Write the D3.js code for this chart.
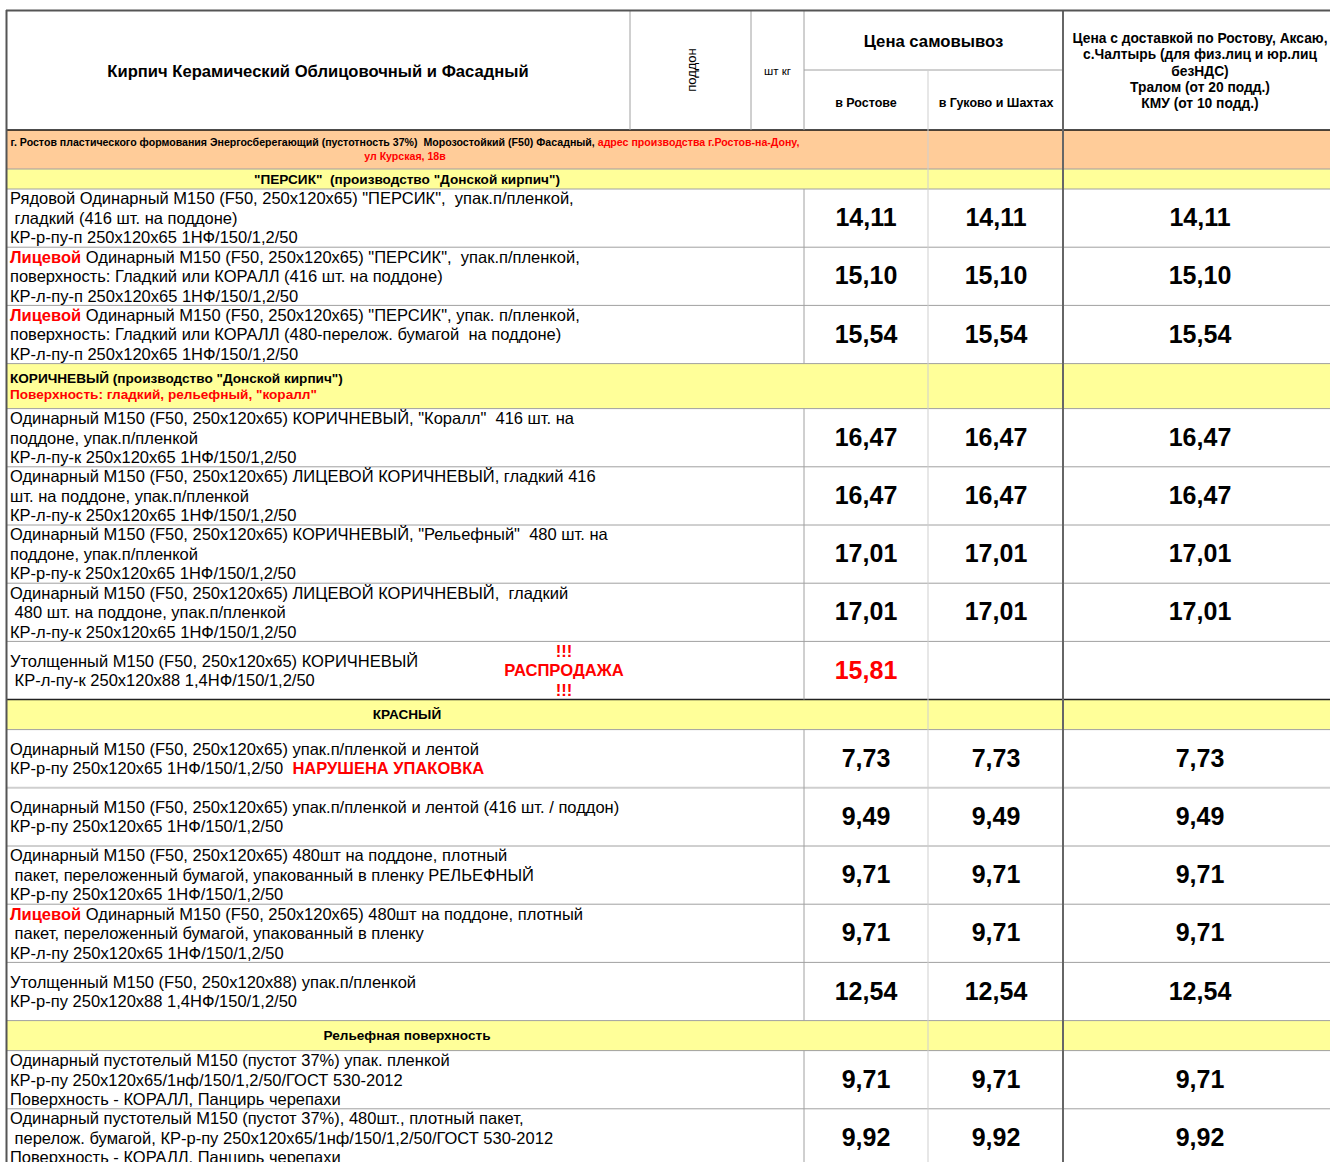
<!DOCTYPE html>
<html><head><meta charset="utf-8">
<script src="https://cdn.jsdelivr.net/npm/d3@7"></script>
<style>
body{margin:0;background:#fff}
svg{display:block}
text{font-family:"Liberation Sans",Arial,sans-serif;white-space:pre}
</style>
</head><body>
<svg id="c" width="1330" height="1162"></svg>
<script>
// ---------- DATA ----------
const tableTitle = "Кирпич Керамический Облицовочный и Фасадный";
const smallHeaders = ["поддон", "шт кг"];
const pickupHeader = "Цена самовывоз";
const pickupSubHeaders = ["в Ростове", "в Гуково и Шахтах"];
const deliveryHeader = ["Цена с доставкой по Ростову, Аксаю,", "с.Чалтырь (для физ.лиц и юр.лиц", "безНДС)", "Тралом (от 20 подд.)", "КМУ (от 10 подд.)"];
const bannerLines = [
  "г. Ростов пластического формования Энергосберегающий (пустотность 37%)  Морозостойкий (F50) Фасадный, [[адрес производства г.Ростов-на-Дону,]]",
  "[[ул Курская, 18в]]"
];
const sectionTitles = [
  ["\"ПЕРСИК\"  (производство \"Донской кирпич\")"],
  ["КОРИЧНЕВЫЙ (производство \"Донской кирпич\")", "[[Поверхность: гладкий, рельефный, \"коралл\"]]"],
  ["КРАСНЫЙ"],
  ["Рельефная поверхность"]
];
const rowKinds = ["banner","section","item","item","item","section","item","item","item","item","item","section","item","item","item","item","item","section","item","item"];
const descriptions = [
  ["Рядовой Одинарный М150 (F50, 250x120x65) \"ПЕРСИК\",  упак.п/пленкой,", " гладкий (416 шт. на поддоне)", "КР-р-пу-п 250x120x65 1НФ/150/1,2/50"],
  ["[[Лицевой]] Одинарный М150 (F50, 250x120x65) \"ПЕРСИК\",  упак.п/пленкой,", "поверхность: Гладкий или КОРАЛЛ (416 шт. на поддоне)", "КР-л-пу-п 250x120x65 1НФ/150/1,2/50"],
  ["[[Лицевой]] Одинарный М150 (F50, 250x120x65) \"ПЕРСИК\", упак. п/пленкой,", "поверхность: Гладкий или КОРАЛЛ (480-перелож. бумагой  на поддоне)", "КР-л-пу-п 250x120x65 1НФ/150/1,2/50"],
  ["Одинарный М150 (F50, 250x120x65) КОРИЧНЕВЫЙ, \"Коралл\"  416 шт. на", "поддоне, упак.п/пленкой", "КР-л-пу-к 250x120x65 1НФ/150/1,2/50"],
  ["Одинарный М150 (F50, 250x120x65) ЛИЦЕВОЙ КОРИЧНЕВЫЙ, гладкий 416", "шт. на поддоне, упак.п/пленкой", "КР-л-пу-к 250x120x65 1НФ/150/1,2/50"],
  ["Одинарный М150 (F50, 250x120x65) КОРИЧНЕВЫЙ, \"Рельефный\"  480 шт. на", "поддоне, упак.п/пленкой", "КР-р-пу-к 250x120x65 1НФ/150/1,2/50"],
  ["Одинарный М150 (F50, 250x120x65) ЛИЦЕВОЙ КОРИЧНЕВЫЙ,  гладкий", " 480 шт. на поддоне, упак.п/пленкой", "КР-л-пу-к 250x120x65 1НФ/150/1,2/50"],
  ["Утолщенный М150 (F50, 250x120x65) КОРИЧНЕВЫЙ", " КР-л-пу-к 250x120x88 1,4НФ/150/1,2/50"],
  ["Одинарный М150 (F50, 250x120x65) упак.п/пленкой и лентой", "КР-р-пу 250x120x65 1НФ/150/1,2/50  [[НАРУШЕНА УПАКОВКА]]"],
  ["Одинарный М150 (F50, 250x120x65) упак.п/пленкой и лентой (416 шт. / поддон)", "КР-р-пу 250x120x65 1НФ/150/1,2/50"],
  ["Одинарный М150 (F50, 250x120x65) 480шт на поддоне, плотный", " пакет, переложенный бумагой, упакованный в пленку РЕЛЬЕФНЫЙ", "КР-р-пу 250x120x65 1НФ/150/1,2/50"],
  ["[[Лицевой]] Одинарный М150 (F50, 250x120x65) 480шт на поддоне, плотный", " пакет, переложенный бумагой, упакованный в пленку", "КР-л-пу 250x120x65 1НФ/150/1,2/50"],
  ["Утолщенный М150 (F50, 250x120x88) упак.п/пленкой", "КР-р-пу 250x120x88 1,4НФ/150/1,2/50"],
  ["Одинарный пустотелый М150 (пустот 37%) упак. пленкой", "КР-р-пу 250x120x65/1нф/150/1,2/50/ГОСТ 530-2012", "Поверхность - КОРАЛЛ, Панцирь черепахи"],
  ["Одинарный пустотелый М150 (пустот 37%), 480шт., плотный пакет,", " перелож. бумагой, КР-р-пу 250x120x65/1нф/150/1,2/50/ГОСТ 530-2012", "Поверхность - КОРАЛЛ, Панцирь черепахи"]
];
const itemNotes = [null,null,null,null,null,null,null,["!!!","РАСПРОДАЖА","!!!"],null,null,null,null,null,null,null];
const priceRostov   = [14.11,15.10,15.54,16.47,16.47,17.01,17.01,15.81,7.73,9.49,9.71,9.71,12.54,9.71,9.92];
const priceGukovo   = [14.11,15.10,15.54,16.47,16.47,17.01,17.01,null, 7.73,9.49,9.71,9.71,12.54,9.71,9.92];
const priceDelivery = [14.11,15.10,15.54,16.47,16.47,17.01,17.01,null, 7.73,9.49,9.71,9.71,12.54,9.71,9.92];
const salePriceIndex = [7];

// ---------- LAYOUT ----------
const X0 = 6, XR = 1338, YTOP = 10, HEADER_H = 120;
const colEdges = {pallet:630, unit:751, rostov:804, gukovo:928, delivery:1063};
const sectionHeights = [20, 45, 30, 30];
const bannerH = 39, itemH = 58.2;
const RED = "#ff0000", ORANGE = "#ffcc99", YELLOW = "#ffff99";

const svg = d3.select("#c");
const fmt = d3.formatLocale({decimal:",", thousands:" ", grouping:[3], currency:["",""]}).format(".2f");

let secI = 0, itemI = 0;
const rows = rowKinds.map(k => {
  if (k === "banner") return {kind:k, h:bannerH};
  if (k === "section") { const i = secI++; return {kind:k, idx:i, h:sectionHeights[i]}; }
  const i = itemI++; return {kind:k, idx:i, h:itemH};
});
const tops = [YTOP + HEADER_H, ...d3.cumsum(rows, r => r.h).map(v => YTOP + HEADER_H + v)];
rows.forEach((r, i) => { r.y0 = tops[i]; r.y1 = tops[i+1]; });
const bottom = tops[tops.length-1];

const xPrice = d3.scaleOrdinal().domain(["rostov","gukovo","delivery"]).range([866, 996, 1200]);

function rich(sel, str, baseBold) {
  const parts = str.split(/(\[\[.*?\]\])/).filter(s => s.length);
  parts.forEach(p => {
    const red = p.startsWith("[[");
    sel.append("tspan").text(red ? p.slice(2,-2) : p)
      .attr("fill", red ? RED : "#000")
      .attr("font-weight", (red || baseBold) ? "bold" : "normal");
  });
}

const bgG = svg.append("g");
bgG.selectAll("rect").data(rows.filter(r => r.kind !== "item")).join("rect")
  .attr("x", X0).attr("y", d => d.y0).attr("width", XR - X0).attr("height", d => d.h)
  .attr("fill", d => d.kind === "banner" ? ORANGE : YELLOW);

const lines = svg.append("g");
function hline(y, x1, x2, color, w) { lines.append("line").attr("x1",x1).attr("x2",x2).attr("y1",y).attr("y2",y).attr("stroke",color).attr("stroke-width",w); }
function vline(x, y1, y2, color, w) { lines.append("line").attr("x1",x).attr("x2",x).attr("y1",y1).attr("y2",y2).attr("stroke",color).attr("stroke-width",w); }

rows.forEach((r, i) => {
  if (i === 0) return;
  const prev = rows[i-1];
  let color = "#a0a0a0", w = 1;
  if (r.kind === "section" && prev.kind === "item" && r.idx === 2) { color = "#222"; w = 1.5; }
  if (r.kind === "item" && prev.kind === "item" && r.idx === 9) { color = "#cfcfcf"; w = 2; }
  hline(r.y0, X0, XR, color, w);
});
hline(YTOP + HEADER_H, X0, XR, "#111", 1.5);
vline(colEdges.pallet, YTOP, YTOP + HEADER_H, "#a0a0a0", 1);
vline(colEdges.unit, YTOP, YTOP + HEADER_H, "#a0a0a0", 1);
vline(colEdges.rostov, YTOP, YTOP + HEADER_H, "#a0a0a0", 1);
hline(YTOP + 60, colEdges.rostov, colEdges.delivery, "#a0a0a0", 1);
vline(colEdges.gukovo, YTOP + 60, YTOP + HEADER_H, "#cfcfcf", 1);
rows.forEach(r => {
  if (r.kind === "item") vline(colEdges.rostov, r.y0, r.y1, "#a0a0a0", 1);
});
vline(colEdges.gukovo, YTOP + HEADER_H, bottom, "#cfcfcf", 1);
vline(colEdges.delivery, YTOP, bottom, "#666", 2);
vline(X0 + 0.5, YTOP, bottom, "#555", 2);
hline(YTOP + 0.5, X0, XR, "#555", 2);

// ---------- HEADER TEXT ----------
const hdr = svg.append("g");
hdr.append("text").attr("x", (X0 + colEdges.pallet)/2).attr("y", 77)
  .attr("text-anchor","middle").attr("font-size",16.6).attr("font-weight","bold").text(tableTitle);
hdr.append("text").attr("transform", `translate(${(colEdges.pallet+colEdges.unit)/2 + 5},70) rotate(-90)`)
  .attr("text-anchor","middle").attr("font-size",13).text(smallHeaders[0]);
hdr.append("text").attr("x", (colEdges.unit+colEdges.rostov)/2).attr("y", 75)
  .attr("text-anchor","middle").attr("font-size",11.5).text(smallHeaders[1]);
hdr.append("text").attr("x", (colEdges.rostov+colEdges.delivery)/2).attr("y", 47)
  .attr("text-anchor","middle").attr("font-size",16.7).attr("font-weight","bold").text(pickupHeader);
hdr.selectAll("text.sub").data(pickupSubHeaders).join("text").attr("class","sub")
  .attr("x", (d,i) => xPrice(i === 0 ? "rostov" : "gukovo")).attr("y", 106.5)
  .attr("text-anchor","middle").attr("font-size",12.5).attr("font-weight","bold").text(d => d);
hdr.selectAll("text.del").data(deliveryHeader).join("text").attr("class","del")
  .attr("x", xPrice("delivery")).attr("y", (d,i) => 43 + i*16.3)
  .attr("text-anchor","middle").attr("font-size",13.8).attr("font-weight","bold").text(d => d);

// ---------- BODY TEXT ----------
const body = svg.append("g");
rows.forEach(r => {
  const cy = (r.y0 + r.y1)/2;
  if (r.kind === "banner") {
    bannerLines.forEach((ln, i) => {
      const t = body.append("text").attr("x", (X0 + colEdges.rostov)/2).attr("y", cy - 7 + i*14 + 3.7)
        .attr("text-anchor","middle").attr("font-size",10.6).attr("font-weight","bold");
      rich(t, ln, true);
    });
  } else if (r.kind === "section") {
    const ls = sectionTitles[r.idx];
    const left = ls.length > 1;
    ls.forEach((ln, i) => {
      const t = body.append("text")
        .attr("x", left ? 10 : (X0 + colEdges.rostov)/2 + 2)
        .attr("y", cy - (ls.length-1)*8 + i*16 + 4.8)
        .attr("text-anchor", left ? "start" : "middle").attr("font-size",13.6).attr("font-weight","bold");
      rich(t, ln, true);
    });
  } else {
    const ls = descriptions[r.idx];
    const lh = 19.5;
    ls.forEach((ln, i) => {
      const t = body.append("text").attr("x", 10)
        .attr("y", cy - (ls.length-1)*lh/2 + i*lh + 5.8)
        .attr("font-size",16.5);
      rich(t, ln, false);
    });
    const note = itemNotes[r.idx];
    if (note) {
      note.forEach((ln, i) => {
        body.append("text").attr("x", 564).attr("y", cy - (note.length-1)*19.5/2 + i*19.5 + 5.8)
          .attr("text-anchor","middle").attr("font-size",16.6).attr("font-weight","bold").attr("fill",RED).text(ln);
      });
    }
    const sale = salePriceIndex.includes(r.idx);
    [["rostov", priceRostov], ["gukovo", priceGukovo], ["delivery", priceDelivery]].forEach(([k, arr]) => {
      const v = arr[r.idx];
      if (v == null) return;
      body.append("text").attr("x", xPrice(k)).attr("y", cy + 8)
        .attr("text-anchor","middle").attr("font-size",25).attr("font-weight","bold")
        .attr("fill", sale ? RED : "#000").text(fmt(v));
    });
  }
});
</script>
</body></html>
